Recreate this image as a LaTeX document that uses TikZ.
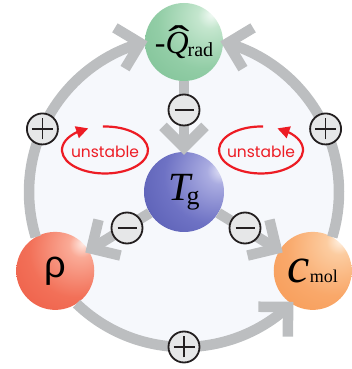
\documentclass[tikz,border=0pt]{standalone}
\usepackage{graphicx}
\usepackage{fontspec}
\setmainfont{Liberation Serif}
\newfontfamily\rhofont{Liberation Sans}
\newfontfamily\comicfont{Poppins}
\usetikzlibrary{arrows.meta,bending,calc}
\definecolor{ringgray}{RGB}{188,190,192}
\definecolor{bgdisk}{RGB}{246,248,252}
\definecolor{signfill}{RGB}{230,231,232}
\definecolor{signline}{RGB}{35,31,32}
\definecolor{loopred}{RGB}{237,28,36}
% sphere colours
\definecolor{qA}{RGB}{242,250,245}\definecolor{qB}{RGB}{196,230,206}\definecolor{qC}{RGB}{146,205,166}\definecolor{qD}{RGB}{104,180,132}
\definecolor{tA}{RGB}{232,232,248}\definecolor{tB}{RGB}{170,172,225}\definecolor{tC}{RGB}{110,114,196}\definecolor{tD}{RGB}{62,68,160}
\definecolor{rA}{RGB}{255,236,230}\definecolor{rB}{RGB}{250,170,150}\definecolor{rC}{RGB}{242,112,88}\definecolor{rD}{RGB}{232,72,52}
\definecolor{cA}{RGB}{255,244,232}\definecolor{cB}{RGB}{252,204,160}\definecolor{cC}{RGB}{249,168,106}\definecolor{cD}{RGB}{244,140,64}
\pgfdeclareradialshading{sphQ}{\pgfpoint{18bp}{18bp}}{color(0bp)=(qA); color(8bp)=(qB); color(30bp)=(qC); color(72bp)=(qD); color(110bp)=(qD)}
\pgfdeclareradialshading{sphT}{\pgfpoint{24bp}{14bp}}{color(0bp)=(tA); color(8bp)=(tB); color(30bp)=(tC); color(72bp)=(tD); color(110bp)=(tD)}
\pgfdeclareradialshading{sphR}{\pgfpoint{18bp}{18bp}}{color(0bp)=(rA); color(8bp)=(rB); color(30bp)=(rC); color(72bp)=(rD); color(110bp)=(rD)}
\pgfdeclareradialshading{sphC}{\pgfpoint{18bp}{20bp}}{color(0bp)=(cA); color(8bp)=(cB); color(30bp)=(cC); color(72bp)=(cD); color(110bp)=(cD)}
\tikzset{
  sphere/.style={circle, minimum size=78pt, inner sep=0pt, text=black},
  conn/.style={draw=ringgray, line width=10.5pt, -{Straight Barb[length=21pt,width=42pt]}},
  signc/.style={circle, draw=signline, fill=signfill, line width=1.8pt, minimum size=31pt, inner sep=0pt},
  possign/.style={signc, path picture={\draw[signline, line width=1.6pt]
      ([xshift=-10.5pt]path picture bounding box.center) -- ([xshift=10.5pt]path picture bounding box.center)
      ([yshift=-10.5pt]path picture bounding box.center) -- ([yshift=10.5pt]path picture bounding box.center);}},
  negsign/.style={signc, path picture={\draw[signline, line width=1.6pt]
      ([xshift=-9.5pt]path picture bounding box.center) -- ([xshift=9.5pt]path picture bounding box.center);}},
  redloop/.style={draw=loopred, line width=2.2pt, -{Triangle[length=12pt,width=12pt]}},
  unst/.style={text=loopred, font=\comicfont\fontsize{15.5}{15.5}\selectfont, inner sep=0pt}
}
\begin{document}
\begin{tikzpicture}[x=1pt,y=1pt]
\useasboundingbox (0,0) rectangle (352,369);
\coordinate (c) at (184,177);
\fill[bgdisk] (c) circle[radius=155pt];
% spheres
\node[sphere, shading=sphQ] (Q) at ($(c)+(90:150pt)$)
  {\fontsize{32}{32}\selectfont -\rlap{\kern3pt\scalebox{2.0}[1.25]{\symbol{"02C6}}}\textit{Q}\kern-1pt\raisebox{-3pt}{\fontsize{20}{20}\selectfont rad}};
\node[sphere, shading=sphT, minimum size=80pt] (Tg) at (c)
  {\fontsize{40}{40}\selectfont\itshape T\kern-4pt\raisebox{-4pt}{\upshape\fontsize{26}{26}\selectfont g}};
\node[sphere, shading=sphR] (rho) at ($(c)+(211.5:151pt)$) {\rhofont\fontsize{38}{38}\selectfont ρ};
\node[sphere, shading=sphC] (cmol) at ($(c)+(-31.5:151pt)$)
  {\fontsize{50}{50}\selectfont\itshape c\upshape\fontsize{18}{18}\selectfont mol};
% ring coordinates
\coordinate (rL0) at ($(c)+(196.9:155pt)$);
\coordinate (rR0) at ($(c)+(-16.9:155pt)$);
\coordinate (rB0) at ($(c)+(226.1:155pt)$);
% ring connectors
\draw[conn] (rL0) arc[start angle=196.9, end angle=103.6, radius=155pt];
\draw[conn] (rR0) arc[start angle=-16.9, end angle=76.4, radius=155pt];
\draw[conn] (rB0) arc[start angle=226.1, end angle=314.9, radius=155pt];
% straight connectors
\draw[conn, shorten >=-3pt] (Q) -- (Tg);
\draw[conn, shorten >=-4pt] (Tg) -- (rho);
\draw[conn, shorten >=-4pt] (Tg) -- (cmol);
% signs
\node[possign] (pL) at ($(c)+(156:155pt)$) {};
\node[possign] (pR) at ($(c)+(24:155pt)$) {};
\node[possign] (pB) at ($(c)+(270:155pt)$) {};
\node[negsign] (mT) at (184,259) {};
\node[negsign] (mL) at (127,141) {};
\node[negsign] (mR) at (245,141) {};
% unstable loops
\coordinate (uL) at (105,219);
\coordinate (uR) at (261,219);
\draw[redloop] ($(uL)+(93:43pt and 23.5pt)$) arc[start angle=93, end angle=-247, x radius=43pt, y radius=23.5pt];
\draw[redloop] ($(uR)+(87:42pt and 23.5pt)$) arc[start angle=87, end angle=427, x radius=42pt, y radius=23.5pt];
\node[unst] (tL) at (105,217) {unstable};
\node[unst] (tR) at (261,217) {unstable};
\end{tikzpicture}
\end{document}
